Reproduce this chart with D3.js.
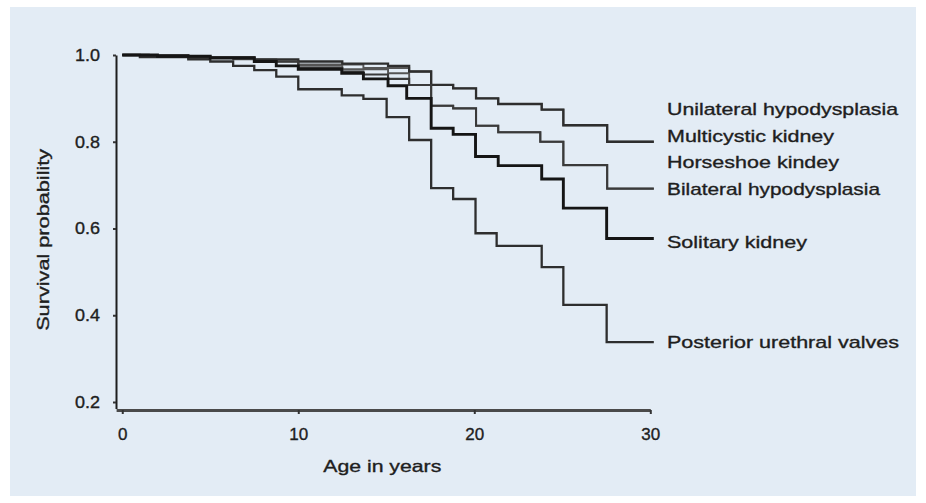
<!DOCTYPE html>
<html>
<head>
<meta charset="utf-8">
<script src="https://cdn.jsdelivr.net/npm/d3@7"></script>
<style>
  html, body { margin: 0; padding: 0; background: #ffffff; }
  svg { display: block; }
  text { font-family: "Liberation Sans", Arial, Helvetica, sans-serif; fill: #1e1e1e; stroke: #1e1e1e; stroke-width: 0.35px; }
</style>
</head>
<body>
<svg id="chart" width="926" height="503"></svg>
<script>
// ---- data (time in years, survival probability) ----
const seriesNames = ["Unilateral hypodysplasia", "Multicystic kidney", "Horseshoe kindey",
                     "Bilateral hypodysplasia", "Solitary kidney", "Posterior urethral valves"];
const unilateral = [[0,1],[1.5,0.998],[3.75,0.995],[7.5,0.99],[10,0.985],[12.5,0.98],[15.1,0.975],[16.3,0.962],[17.55,0.931],[18.8,0.923],[20.1,0.90],[21.36,0.887],[23.83,0.874],[25.06,0.838],[27.55,0.80],[30.2,0.80]];
const multicystic = [[0,1],[3.75,0.993],[6.3,0.99],[8.75,0.985],[10,0.978],[13.7,0.97],[16.3,0.962],[17.55,0.931],[18.8,0.923],[20.1,0.90],[21.36,0.887],[23.83,0.874],[25.06,0.838],[27.55,0.80],[30.2,0.80]];
const horseshoe = [[0,1],[2.5,0.996],[5,0.993],[7.5,0.985],[10,0.975],[12.5,0.967],[15.1,0.958],[16.3,0.931],[17.55,0.883],[18.8,0.877],[20.1,0.837],[21.36,0.822],[23.75,0.80],[25.06,0.746],[27.55,0.692],[30.2,0.692]];
const bilateral = [[0,1],[3.75,0.995],[7.5,0.985],[10,0.97],[12.5,0.962],[13.7,0.955],[15.1,0.945],[16.3,0.931],[17.55,0.883],[18.8,0.877],[20.1,0.837],[21.36,0.822],[23.75,0.80],[25.06,0.746],[27.55,0.692],[30.2,0.692]];
const solitary = [[0,1],[2,0.997],[5,0.993],[7.5,0.985],[8.75,0.975],[10,0.967],[12.47,0.958],[13.7,0.945],[15.1,0.929],[16.16,0.90],[17.55,0.831],[18.8,0.817],[20.07,0.766],[21.36,0.745],[23.83,0.714],[25.06,0.647],[27.52,0.577],[30.2,0.577]];
const puv = [[0,1],[1.0,0.995],[3.75,0.99],[5,0.985],[6.3,0.975],[7.5,0.965],[8.75,0.95],[10,0.921],[12.47,0.907],[13.7,0.899],[15.02,0.857],[16.3,0.804],[17.55,0.693],[18.8,0.668],[20.07,0.589],[21.27,0.56],[23.83,0.511],[25.06,0.424],[27.52,0.338],[30.2,0.338]];
const xTicks = [0, 10, 20, 30];
const yTicks = [0.2, 0.4, 0.6, 0.8, 1.0];
const xLabel = "Age in years";
const yLabel = "Survival probability";

// label placement: value at which each end label sits (centre), and its drawn width
const labelValues = [0.875, 0.813, 0.753, 0.692, 0.57, 0.339];
const labelWidths = [231, 167, 172, 213, 140, 232];

const svg = d3.select("#chart");

svg.append("rect").attr("x", 10).attr("y", 7).attr("width", 906).attr("height", 489)
   .attr("fill", "#e3ecf5");

const x = d3.scaleLinear().domain([-0.35, 30]).range([116.1, 650.3]);
const y = d3.scaleLinear().domain([0.185, 1.0]).range([408.5, 55]);

// axes
const xAxis = d3.axisBottom(x).tickValues(xTicks).tickSize(4).tickSizeOuter(0).tickPadding(14)
  .tickFormat(d3.format("d"));
const gx = svg.append("g").attr("transform", "translate(0,410)").call(xAxis);
gx.select(".domain").attr("stroke", "#4a4a4a").attr("stroke-width", 3);
gx.selectAll(".tick line").attr("stroke", "#333").attr("stroke-width", 2);
gx.selectAll(".tick text").attr("font-size", 17).attr("fill", "#1e1e1e")
  .style("font-family", "'Liberation Sans', Arial, sans-serif");

const yAxis = d3.axisLeft(y).tickValues(yTicks).tickSize(3).tickSizeOuter(0).tickPadding(13)
  .tickFormat(d3.format(".1f"));
const gy = svg.append("g").attr("transform", "translate(116,0)").call(yAxis);
gy.select(".domain").attr("stroke", "#1e1e1e").attr("stroke-width", 2);
gy.selectAll(".tick line").attr("stroke", "#333").attr("stroke-width", 2);
gy.selectAll(".tick text").attr("font-size", 16.5).attr("fill", "#1e1e1e")
  .attr("textLength", 25).attr("lengthAdjust", "spacingAndGlyphs")
  .style("font-family", "'Liberation Sans', Arial, sans-serif");

// axis titles
svg.append("text").attr("x", x(15) - 4).attr("y", 472).attr("text-anchor", "middle")
  .attr("font-size", 16.5).attr("textLength", 118).attr("lengthAdjust", "spacingAndGlyphs")
  .text(xLabel);
svg.append("text").attr("transform", `translate(49,${(y(0.6)+y(0.4))/2 - 32}) rotate(-90)`)
  .attr("text-anchor", "middle").attr("font-size", 16)
  .attr("textLength", 182).attr("lengthAdjust", "spacingAndGlyphs")
  .text(yLabel);

// curves
const line = d3.line().x(d => x(d[0])).y(d => y(d[1])).curve(d3.curveStepAfter);
const curves = [
  {data: multicystic, color: "#555", w: 1.9},
  {data: horseshoe, color: "#555", w: 1.9},
  {data: unilateral, color: "#2e2e2e", w: 2.3},
  {data: bilateral, color: "#3a3a3a", w: 2.1},
  {data: puv, color: "#2e2e2e", w: 2.3},
  {data: solitary, color: "#151515", w: 2.9}
];
svg.append("g").selectAll("path").data(curves).join("path")
  .attr("d", d => line(d.data))
  .attr("fill", "none")
  .attr("stroke", d => d.color)
  .attr("stroke-width", d => d.w)
  .attr("stroke-linejoin", "miter");

// end labels
svg.append("g").selectAll("text").data(seriesNames).join("text")
  .attr("x", 667)
  .attr("y", (d, i) => y(labelValues[i]))
  .attr("dy", "0.36em")
  .attr("font-size", 17)
  .attr("textLength", (d, i) => labelWidths[i])
  .attr("lengthAdjust", "spacingAndGlyphs")
  .text(d => d);
</script>
</body>
</html>
